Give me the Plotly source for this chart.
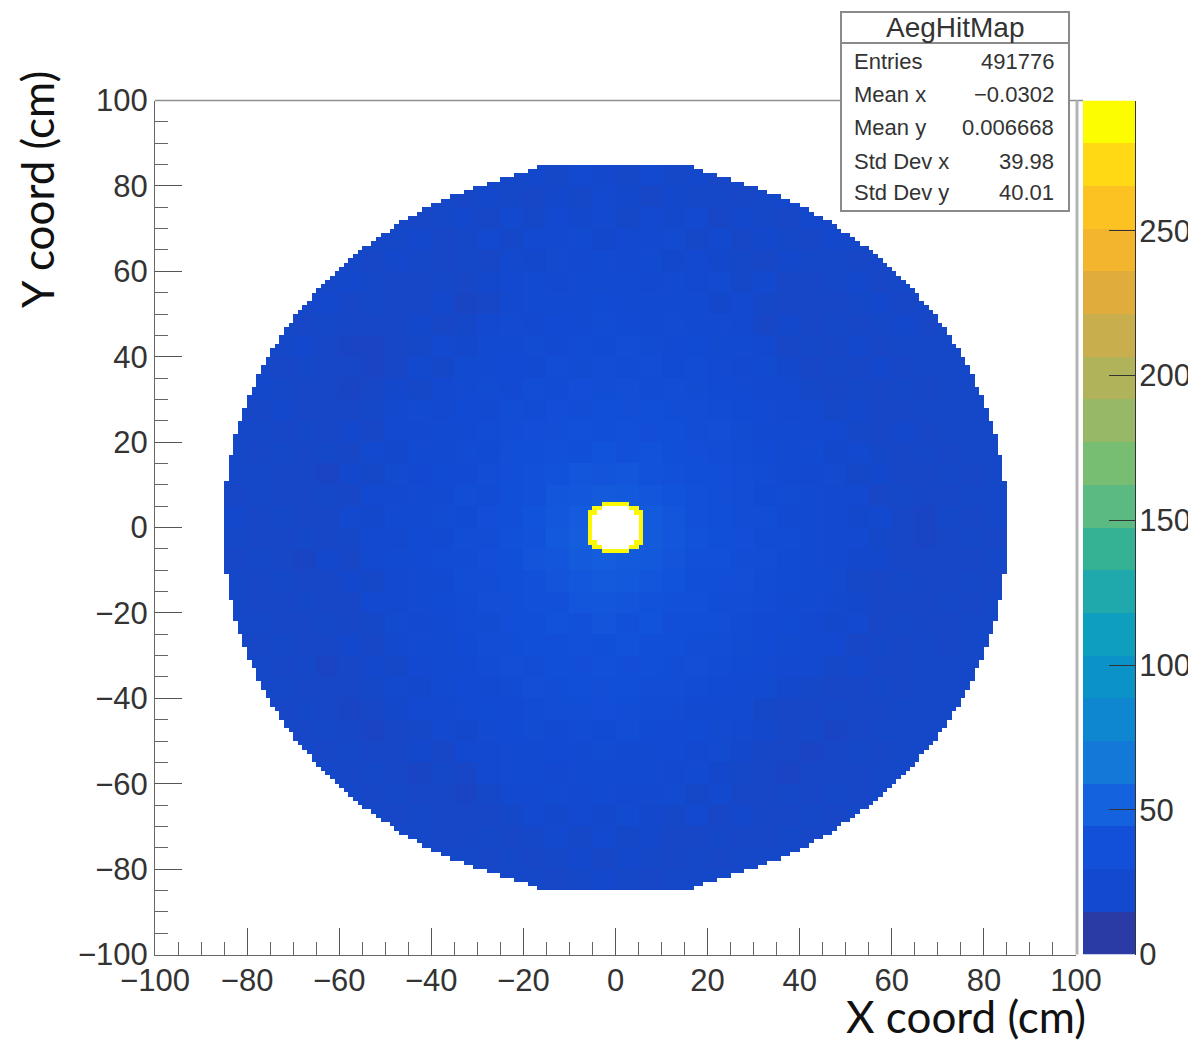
import plotly.graph_objects as go

# ---- data -----------------------------------------------------------------
# half width (cm) of the filled disk in each 1 cm row, for |y| = 0..85
disk_half_width = [85,85,85,85,85,85,85,85,85,85,85,84,84,84,84,84,84,83,83,83,83,83,82,82,82,
                   81,81,81,80,80,80,79,79,78,78,78,77,77,76,76,75,75,74,73,73,72,72,71,70,70,
                   69,68,67,66,66,65,64,63,62,61,60,59,58,57,56,55,53,52,51,49,48,47,45,43,42,
                   40,38,36,33,31,28,25,22,19,17]
# half widths (cm) of the central hole (with its one-bin bright rim) and its white interior
hole_half_width = [6,6,6,6,5,3]
white_half_width = [5,5,5,4,3,0]
rim_counts = 285

# typical counts per bin read in 5 cm patches; rows run from y=+85 to y=-85, columns from x=-85 to x=+85
patch_counts = [
 [20,20,20,20,20,20,20,20,20,20,20,20,20,21,20,22,21,20,22,20,21,19,21,20,20,20,20,20,20,20,20,20,20,20],
 [20,20,20,20,20,20,20,20,20,20,19,21,20,19,21,20,22,21,19,21,20,20,19,20,21,20,20,20,20,20,20,20,20,20],
 [20,20,20,20,20,20,20,20,19,20,21,19,22,20,23,21,22,20,23,21,22,19,21,20,19,21,20,20,20,20,20,20,20,20],
 [20,20,20,20,20,20,20,20,21,19,20,22,20,23,22,24,21,23,22,24,20,22,19,21,20,19,21,20,20,20,20,20,20,20],
 [20,20,20,20,20,20,19,21,20,19,20,19,22,21,24,23,25,22,24,21,23,21,20,19,21,20,20,19,20,20,20,20,20,20],
 [20,20,20,20,20,21,20,19,19,20,19,21,23,24,22,25,24,26,23,25,22,24,20,22,19,19,20,21,19,20,20,20,20,20],
 [20,20,20,20,21,19,20,19,19,21,18,19,22,25,24,26,27,25,26,24,25,21,23,20,19,19,19,20,21,19,20,20,20,20],
 [20,20,20,19,20,19,19,19,21,19,20,23,25,23,27,26,28,27,25,28,24,26,22,19,21,19,20,19,20,21,19,20,20,20],
 [20,20,20,21,19,18,18,19,20,22,21,24,26,28,25,29,27,30,28,26,27,24,25,22,19,20,19,21,19,20,20,20,20,20],
 [20,20,19,20,19,19,18,19,22,20,24,25,27,26,30,28,31,29,30,27,29,26,23,24,21,19,20,19,21,19,20,20,20,20],
 [20,21,20,19,19,18,19,21,20,23,25,28,26,31,29,33,30,32,29,31,28,27,25,23,22,20,19,20,19,20,19,20,20,20],
 [20,19,21,19,19,19,20,22,24,22,27,26,30,29,33,31,35,32,34,30,31,28,27,25,23,22,20,21,19,19,20,20,20,20],
 [20,20,19,20,19,21,19,23,22,26,25,29,31,33,32,36,34,37,33,35,30,32,28,26,25,22,23,20,19,21,19,20,20,20],
 [20,19,20,19,20,19,22,21,25,24,28,27,32,34,37,35,39,36,38,34,33,30,29,27,24,25,21,22,20,19,20,19,20,20],
 [20,20,19,19,18,21,20,24,23,27,26,31,33,36,38,41,40,42,38,37,34,33,30,28,26,23,24,20,21,19,19,20,19,20],
 [19,20,19,19,20,19,23,22,26,25,30,29,35,37,41,43,46,44,42,39,37,32,31,27,28,24,22,23,19,20,19,19,20,20],
 [21,19,20,19,19,22,21,25,24,28,27,33,34,39,43,47,48,47,45,41,36,35,30,30,26,25,23,21,22,19,18,20,19,20],
 [20,19,19,20,19,20,23,22,27,26,31,30,36,38,44,48,48,48,46,42,38,34,33,28,29,24,22,23,20,19,18,19,20,19],
 [19,20,19,18,21,19,22,24,25,29,28,33,34,40,42,46,48,46,44,40,37,36,31,30,27,26,23,21,21,19,19,19,19,20],
 [20,19,20,19,19,21,20,23,26,25,30,31,35,36,40,43,45,44,41,39,35,33,32,28,27,24,24,20,19,20,19,19,20,19],
 [20,19,19,20,19,19,23,22,24,27,28,32,32,36,37,41,42,40,38,37,36,31,30,29,25,25,22,21,19,19,19,20,19,20],
 [20,20,19,19,20,19,20,24,23,26,29,28,33,34,38,36,40,37,39,33,34,32,29,26,27,23,21,22,19,20,19,19,20,20],
 [20,19,20,19,19,21,19,22,25,24,27,30,31,35,33,37,35,38,34,35,31,30,28,27,24,22,23,19,20,19,20,19,20,20],
 [20,20,19,20,18,19,21,20,23,26,25,29,32,30,34,33,36,33,35,31,32,28,27,25,23,22,20,21,19,19,20,20,20,20],
 [20,20,20,19,19,19,20,22,21,24,27,26,28,32,30,34,32,35,31,30,29,27,25,24,21,20,19,19,20,19,20,20,20,20],
 [20,20,19,20,19,18,19,21,23,22,25,27,26,29,31,30,33,31,29,28,26,25,24,20,19,19,20,19,19,20,20,20,20,20],
 [20,20,20,19,20,19,18,19,20,22,21,25,27,28,26,29,27,30,27,26,27,24,22,21,19,20,18,19,20,20,20,20,20,20],
 [20,20,20,20,19,20,19,19,21,19,23,22,26,24,27,25,28,26,25,27,23,24,21,19,19,18,19,20,19,20,20,20,20,20],
 [20,20,20,20,20,19,20,19,18,20,19,22,24,25,23,26,24,25,24,22,25,21,20,19,18,19,19,19,20,20,20,20,20,20],
 [20,20,20,20,20,20,19,20,19,19,18,20,22,23,24,22,25,23,22,24,20,22,19,19,20,19,20,19,20,20,20,20,20,20],
 [20,20,20,20,20,20,20,19,20,19,19,19,20,22,21,23,21,24,21,20,22,19,21,19,19,20,19,20,20,20,20,20,20,20],
 [20,20,20,20,20,20,20,20,20,19,19,20,19,20,22,20,22,20,21,19,19,20,19,19,20,19,20,20,20,20,20,20,20,20],
 [20,20,20,20,20,20,20,20,20,20,20,19,20,19,20,21,19,21,20,19,20,19,20,20,20,20,20,20,20,20,20,20,20,20],
 [20,20,20,20,20,20,20,20,20,20,20,20,20,20,19,20,21,20,19,20,20,20,20,20,20,20,20,20,20,20,20,20,20,20],
]

# colour of each of the 20 palette levels, bottom to top
level_colors = ["#2a3ba6","#1249cf","#1250da","#1562de","#1279d8","#0e86d0","#0b93c8","#0f9fbe",
                "#1fa9ac","#35b293","#5aba82","#77bd72","#97b866","#b0b35a","#c8ae4c","#e0ad3c",
                "#f4b52e","#fcc222","#ffda14","#fbfd00"]
z_max = 295
tick_values = [-100,-80,-60,-40,-20,0,20,40,60,80,100]
bar_ticks = [0,50,100,150,200,250]
stats_title = "AegHitMap"
stats_names = ["Entries","Mean x","Mean y","Std Dev x","Std Dev y"]
stats_values = ["491776","\u22120.0302","0.006668","39.98","40.01"]
x_title = "X coord (cm)"
y_title = "Y coord (cm)"

# ---- build the 1 cm histogram ---------------------------------------------
bin_centers = [i + 0.5 for i in range(-100, 100)]
z = []
for y in bin_centers:
    row_idx = int(abs(y))
    row = []
    for x in bin_centers:
        ax = abs(x)
        v = None
        if row_idx < len(disk_half_width) and ax < disk_half_width[row_idx]:
            pr = int((85 - y) // 5)
            pc = int((x + 85) // 5)
            v = patch_counts[pr][pc]
            if row_idx < len(hole_half_width) and ax < hole_half_width[row_idx]:
                v = None if ax < white_half_width[row_idx] else rim_counts
        row.append(v)
    z.append(row)

n = len(level_colors)
scale = [[0, level_colors[0]]] + [[(i + 0.5) / n, c] for i, c in enumerate(level_colors)] + [[1, level_colors[-1]]]
level_mid = [(i + 0.5) * z_max / n for i in range(n)]

# ---- layout in pixels -----------------------------------------------------
W, H = 1188, 1040
px = lambda v: v / W
py = lambda v: 1 - v / H
L, R, T, B = 155, 1076, 100.5, 954.5
FONT = "Liberation Sans"
INK = "#333333"

fig = go.Figure()
fig.add_trace(go.Heatmap(x=bin_centers, y=bin_centers, z=z, colorscale=scale, zmin=0, zmax=z_max,
                         showscale=False, hoverongaps=False, xaxis="x", yaxis="y"))
fig.add_trace(go.Heatmap(x=[0.5], y=level_mid, z=[[v] for v in level_mid], dx=1, colorscale=scale,
                         zmin=0, zmax=z_max, showscale=False, xaxis="x2", yaxis="y2"))

axis_common = dict(range=[-100, 100], tickvals=tick_values, ticks="inside", ticklen=27, tickwidth=1,
                   tickcolor="#555555", showgrid=False, zeroline=False, showline=True, linecolor="#666666",
                   linewidth=1, automargin=False, tickfont=dict(family=FONT, size=31, color=INK),
                   minor=dict(dtick=5, tick0=0, ticks="inside", ticklen=13, tickwidth=1, tickcolor="#666666", showgrid=False))
shapes = [
    dict(type="line", xref="paper", yref="paper", x0=px(L), x1=px(1083), y0=py(T), y1=py(T),
         line=dict(color="#8f8f8f", width=1.5)),
    dict(type="line", xref="paper", yref="paper", x0=px(1077), x1=px(1077), y0=py(T), y1=py(B),
         line=dict(color="#b4b4b4", width=3)),
    dict(type="rect", xref="paper", yref="paper", x0=px(841), x1=px(1069), y0=py(12), y1=py(211),
         fillcolor="white", line=dict(color="#8a8a8a", width=2)),
    dict(type="line", xref="paper", yref="paper", x0=px(841), x1=px(1069), y0=py(43), y1=py(43),
         line=dict(color="#8a8a8a", width=2)),
]
ann = [dict(text=stats_title, x=px(955), y=py(27), xref="paper", yref="paper", showarrow=False,
            xanchor="center", yanchor="middle", font=dict(family=FONT, size=28, color=INK))]
for name, val, yp in zip(stats_names, stats_values, [61, 94, 127, 161, 192]):
    ann.append(dict(text=name, x=px(852), y=py(yp), xref="paper", yref="paper", showarrow=False,
                    xanchor="left", yanchor="middle", font=dict(family=FONT, size=22, color=INK)))
    ann.append(dict(text=val, x=px(1056), y=py(yp), xref="paper", yref="paper", showarrow=False,
                    xanchor="right", yanchor="middle", font=dict(family=FONT, size=22, color=INK)))
ann.append(dict(text=x_title, x=px(966), y=py(1016), xref="paper", yref="paper", showarrow=False,
                xanchor="center", yanchor="middle", font=dict(family="Lato", size=44, color="#111111")))
ann.append(dict(text=y_title, x=px(37), y=py(190), xref="paper", yref="paper", showarrow=False, textangle=-90,
                xanchor="center", yanchor="middle", font=dict(family="Lato", size=44, color="#111111")))

fig.update_layout(
    template=None,
    width=W, height=H, margin=dict(l=0, r=0, t=0, b=0, autoexpand=False), paper_bgcolor="white", plot_bgcolor="white",
    showlegend=False, shapes=shapes, annotations=ann,
    xaxis=dict(domain=[px(L), px(R)], anchor="y", ticklabelstandoff=-2, **axis_common),
    yaxis=dict(domain=[py(B), py(T)], anchor="x", **axis_common),
    xaxis2=dict(domain=[px(1083), px(1135)], anchor="y2", range=[0, 1], showticklabels=False, ticks="",
                showgrid=False, zeroline=False, showline=False, automargin=False),
    yaxis2=dict(domain=[py(B), py(T)], anchor="x2", side="right", range=[0, z_max], tickvals=bar_ticks,
                ticks="inside", ticklen=26, tickwidth=1, tickcolor="#333333", showgrid=False, zeroline=False,
                showline=True, linecolor="#333333", linewidth=1, automargin=False, ticklabelstandoff=-3,
                tickfont=dict(family=FONT, size=31, color=INK)),
)
fig.write_html("out.html", post_script="document.body.style.margin='0';", config={"displayModeBar": False})
